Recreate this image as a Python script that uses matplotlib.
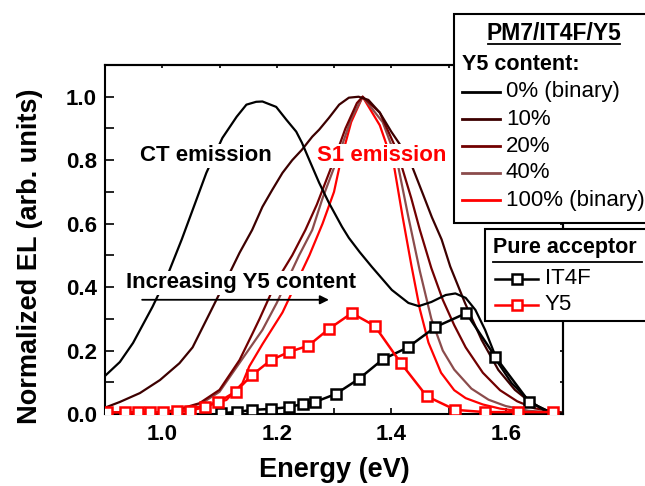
import matplotlib
matplotlib.use("Agg")
import matplotlib.pyplot as plt
from matplotlib.lines import Line2D
from matplotlib.patches import Rectangle
import numpy as np

plt.rcParams['font.family'] = ['Liberation Sans', 'DejaVu Sans']

# ---------------- data ----------------
# EL spectra of PM7/IT4F/Y5 blends (normalized)
e_0 = [0.900, 0.926, 0.949, 0.983, 1.008, 1.034, 1.077, 1.105, 1.130, 1.147, 1.164, 1.175,
       1.199, 1.217, 1.234, 1.244, 1.257, 1.274, 1.291, 1.314, 1.326, 1.345, 1.366, 1.401,
       1.430, 1.448, 1.470, 1.495, 1.512, 1.530, 1.547, 1.564, 1.587, 1.610, 1.639, 1.670, 1.690]
v_0 = [0.120, 0.164, 0.224, 0.338, 0.432, 0.550, 0.760, 0.870, 0.937, 0.975, 0.984, 0.985,
       0.968, 0.927, 0.890, 0.855, 0.800, 0.729, 0.666, 0.590, 0.555, 0.510, 0.464, 0.391,
       0.350, 0.340, 0.353, 0.375, 0.380, 0.366, 0.328, 0.265, 0.160, 0.098, 0.045, 0.008, 0.002]

e_10 = [0.900, 0.926, 0.961, 0.996, 1.030, 1.053, 1.083, 1.112, 1.135, 1.157, 1.175, 1.192,
        1.210, 1.227, 1.244, 1.262, 1.274, 1.291, 1.309, 1.326, 1.343, 1.360, 1.380, 1.400,
        1.430, 1.456, 1.471, 1.488, 1.503, 1.529, 1.558, 1.587, 1.616, 1.645, 1.670, 1.700]
v_10 = [0.020, 0.038, 0.066, 0.107, 0.160, 0.210, 0.318, 0.423, 0.508, 0.580, 0.653, 0.706,
        0.760, 0.800, 0.833, 0.874, 0.896, 0.933, 0.975, 0.997, 1.000, 0.990, 0.950, 0.890,
        0.810, 0.690, 0.620, 0.550, 0.465, 0.349, 0.233, 0.139, 0.076, 0.034, 0.012, 0.003]

e_20 = [0.900, 1.000, 1.025, 1.065, 1.100, 1.135, 1.158, 1.170, 1.200, 1.227, 1.250, 1.270,
        1.300, 1.320, 1.340, 1.350, 1.380, 1.410, 1.435, 1.450, 1.470, 1.490, 1.510, 1.530,
        1.560, 1.590, 1.620, 1.650, 1.700]
v_20 = [0.005, 0.006, 0.013, 0.034, 0.076, 0.170, 0.255, 0.300, 0.420, 0.500, 0.580, 0.660,
        0.800, 0.900, 0.980, 1.000, 0.950, 0.830, 0.680, 0.580, 0.460, 0.360, 0.280, 0.210,
        0.130, 0.075, 0.040, 0.018, 0.004]

e_40 = [0.900, 1.000, 1.030, 1.070, 1.100, 1.123, 1.150, 1.175, 1.200, 1.239, 1.262, 1.280,
        1.305, 1.330, 1.350, 1.385, 1.410, 1.430, 1.450, 1.470, 1.490, 1.510, 1.540, 1.570,
        1.600, 1.640, 1.700]
v_40 = [0.003, 0.005, 0.012, 0.035, 0.070, 0.130, 0.200, 0.265, 0.350, 0.500, 0.580, 0.680,
        0.800, 0.930, 1.000, 0.920, 0.800, 0.620, 0.450, 0.300, 0.200, 0.140, 0.080, 0.045,
        0.025, 0.010, 0.003]

e_100 = [0.900, 1.000, 1.065, 1.112, 1.140, 1.152, 1.175, 1.210, 1.257, 1.280, 1.300, 1.312,
         1.330, 1.350, 1.380, 1.405, 1.420, 1.435, 1.450, 1.465, 1.487, 1.510, 1.530, 1.560,
         1.590, 1.640, 1.700]
v_100 = [0.002, 0.004, 0.023, 0.044, 0.097, 0.150, 0.220, 0.320, 0.500, 0.600, 0.700, 0.800,
         0.920, 1.000, 0.910, 0.780, 0.620, 0.470, 0.330, 0.225, 0.130, 0.075, 0.050, 0.030,
         0.017, 0.005, 0.002]

# Pure acceptor EL
e_it4f = [1.102, 1.130, 1.157, 1.190, 1.222, 1.246, 1.267, 1.303, 1.343, 1.385, 1.429,
          1.477, 1.531, 1.582, 1.641, 1.675]
v_it4f = [0.003, 0.006, 0.013, 0.016, 0.022, 0.032, 0.038, 0.063, 0.110, 0.172, 0.210,
          0.274, 0.318, 0.180, 0.038, 0.008]

e_y5 = [0.903, 0.935, 0.957, 0.978, 1.001, 1.025, 1.048, 1.074, 1.098, 1.128, 1.157, 1.190,
        1.222, 1.255, 1.291, 1.331, 1.371, 1.417, 1.462, 1.512, 1.564, 1.622, 1.683]
v_y5 = [0.005, 0.005, 0.005, 0.005, 0.006, 0.008, 0.010, 0.022, 0.038, 0.070, 0.123, 0.170,
        0.196, 0.215, 0.268, 0.318, 0.278, 0.160, 0.056, 0.013, 0.006, 0.006, 0.006]

blend_labels = ['0% (binary)', '10%', '20%', '40%', '100% (binary)']
blend_colors = ['#000000', '#3c0000', '#720000', '#8b4c4c', '#ff0000']
blend_e = [e_0, e_10, e_20, e_40, e_100]
blend_v = [v_0, v_10, v_20, v_40, v_100]

acc_labels = ['IT4F', 'Y5']
acc_colors = ['#000000', '#ff0000']
acc_e = [e_it4f, e_y5]
acc_v = [v_it4f, v_y5]

x_ticks = [1.0, 1.2, 1.4, 1.6]
y_ticks = [0.0, 0.2, 0.4, 0.6, 0.8, 1.0]

# ---------------- figure ----------------
W, H = 645, 486
fig = plt.figure(figsize=(W / 100, H / 100), dpi=100)
ax = fig.add_axes([105 / W, 1 - 414 / H, (563 - 105) / W, (414 - 65) / H])

# draw from 100% to 0% so darker lines stay visible
for e, v, c in reversed(list(zip(blend_e, blend_v, blend_colors))):
    ax.plot(e, v, color=c, lw=1.6, zorder=2)

for e, v, c in zip(acc_e, acc_v, acc_colors):
    n = len(e)
    mev = list(range(n - 1)) if c == '#000000' else list(range(n))
    ax.plot(e, v, color=c, lw=1.8, marker='s', ms=7, mfc='white', mec=c, mew=1.8,
            markevery=mev, zorder=3)

ax.set_xlim(0.9, 1.7)
ax.set_ylim(0.0, 1.1)
ax.set_xticks(x_ticks)
ax.set_xticklabels([f'{t:.1f}' for t in x_ticks])
ax.set_yticks(y_ticks)
ax.set_yticklabels([f'{t:.1f}' for t in y_ticks])
ax.set_xticks(np.arange(0.9, 1.71, 0.1), minor=True)
ax.set_yticks(np.arange(0.0, 1.11, 0.1), minor=True)

for sp in ax.spines.values():
    sp.set_linewidth(1.5)

ax.tick_params(axis='x', which='both', direction='in', length=4, width=1.2, pad=7,
               labelsize=16)
ax.tick_params(axis='y', which='both', direction='in', length=6.5, width=1.2, pad=6,
               labelsize=16)
for lab in ax.get_xticklabels() + ax.get_yticklabels():
    lab.set_fontweight('bold')

sx = ax.secondary_xaxis('top')
sx.set_xticks(np.arange(0.9, 1.71, 0.1))
sx.tick_params(direction='in', length=2.5, width=1.2, labeltop=False)
sy = ax.secondary_yaxis('right')
sy.set_yticks(np.arange(0.0, 1.11, 0.1))
sy.tick_params(direction='in', length=2.5, width=1.2, labelright=False)
for s in (sx, sy):
    for sp in s.spines.values():
        sp.set_linewidth(1.5)

ax.set_xlabel('Energy (eV)', fontsize=19.5, fontweight='bold')
ax.set_ylabel('Normalized EL (arb. units)', fontsize=19.5, fontweight='bold')
ax.xaxis.set_label_coords(0.5, -0.123)
ax.yaxis.set_label_coords(-0.135, 0.453)

# annotations
bbox_w = dict(facecolor='white', edgecolor='none', pad=1.0)
ax.text(1.077, 0.814, 'CT emission', fontsize=16, fontweight='bold', color='black',
        ha='center', va='center', bbox=bbox_w, zorder=5)
ax.text(1.383, 0.814, 'S1 emission', fontsize=16, fontweight='bold', color='#ff0000',
        ha='center', va='center', bbox=bbox_w, zorder=5)
ax.text(1.137, 0.413, 'Increasing Y5 content', fontsize=16, fontweight='bold',
        color='black', ha='center', va='center', bbox=bbox_w, zorder=5)
ax.annotate('', xy=(1.296, 0.36), xytext=(0.96, 0.36),
            arrowprops=dict(arrowstyle='-|>', color='black', lw=1.3, mutation_scale=13),
            zorder=6)

# ---------------- legend boxes (figure pixel coords) ----------------
def fx(x):
    return x / W


def fy(y):
    return 1 - y / H


tf = fig.transFigure

# box 1
fig.add_artist(Rectangle((fx(454), fy(223)), fx(720) - fx(454), fy(14) - fy(223),
                         transform=tf, facecolor='white', edgecolor='black', lw=1.5,
                         zorder=20))
fig.text(fx(554), fy(33), 'PM7/IT4F/Y5', fontsize=16.5, fontweight='bold',
         ha='center', va='center', zorder=21)
fig.add_artist(Line2D([fx(488), fx(620)], [fy(44), fy(44)], transform=tf,
                      color='black', lw=1.3, zorder=21))
fig.text(fx(462), fy(65), 'Y5 content:', fontsize=15.5, fontweight='bold',
         ha='left', va='center', zorder=21)
row_y = [92, 119, 146, 173, 200]
for yy, lab, c in zip(row_y, blend_labels, blend_colors):
    fig.add_artist(Line2D([fx(462), fx(500)], [fy(yy), fy(yy)], transform=tf,
                          color=c, lw=2.0, zorder=21))
    fig.text(fx(506), fy(yy), lab, fontsize=16, ha='left', va='center', zorder=21)

# box 2
fig.add_artist(Rectangle((fx(485), fy(321)), fx(720) - fx(485), fy(229) - fy(321),
                         transform=tf, facecolor='white', edgecolor='black', lw=1.5,
                         zorder=20))
fig.text(fx(493), fy(247), 'Pure acceptor', fontsize=15.5, fontweight='bold',
         ha='left', va='center', zorder=21)
fig.add_artist(Line2D([fx(493), fx(642)], [fy(262), fy(262)], transform=tf,
                      color='black', lw=1.3, zorder=21))
for yy, lab, c in zip([279, 305], acc_labels, acc_colors):
    fig.add_artist(Line2D([fx(495), fx(538)], [fy(yy), fy(yy)], transform=tf,
                          color=c, lw=1.8, zorder=21))
    fig.add_artist(Line2D([fx(517)], [fy(yy)], transform=tf, color=c, marker='s',
                          ms=7, mfc='white', mec=c, mew=1.8, zorder=22))
    fig.text(fx(545), fy(yy), lab, fontsize=16, ha='left', va='center', zorder=21)

fig.savefig('out.png', dpi=100)
